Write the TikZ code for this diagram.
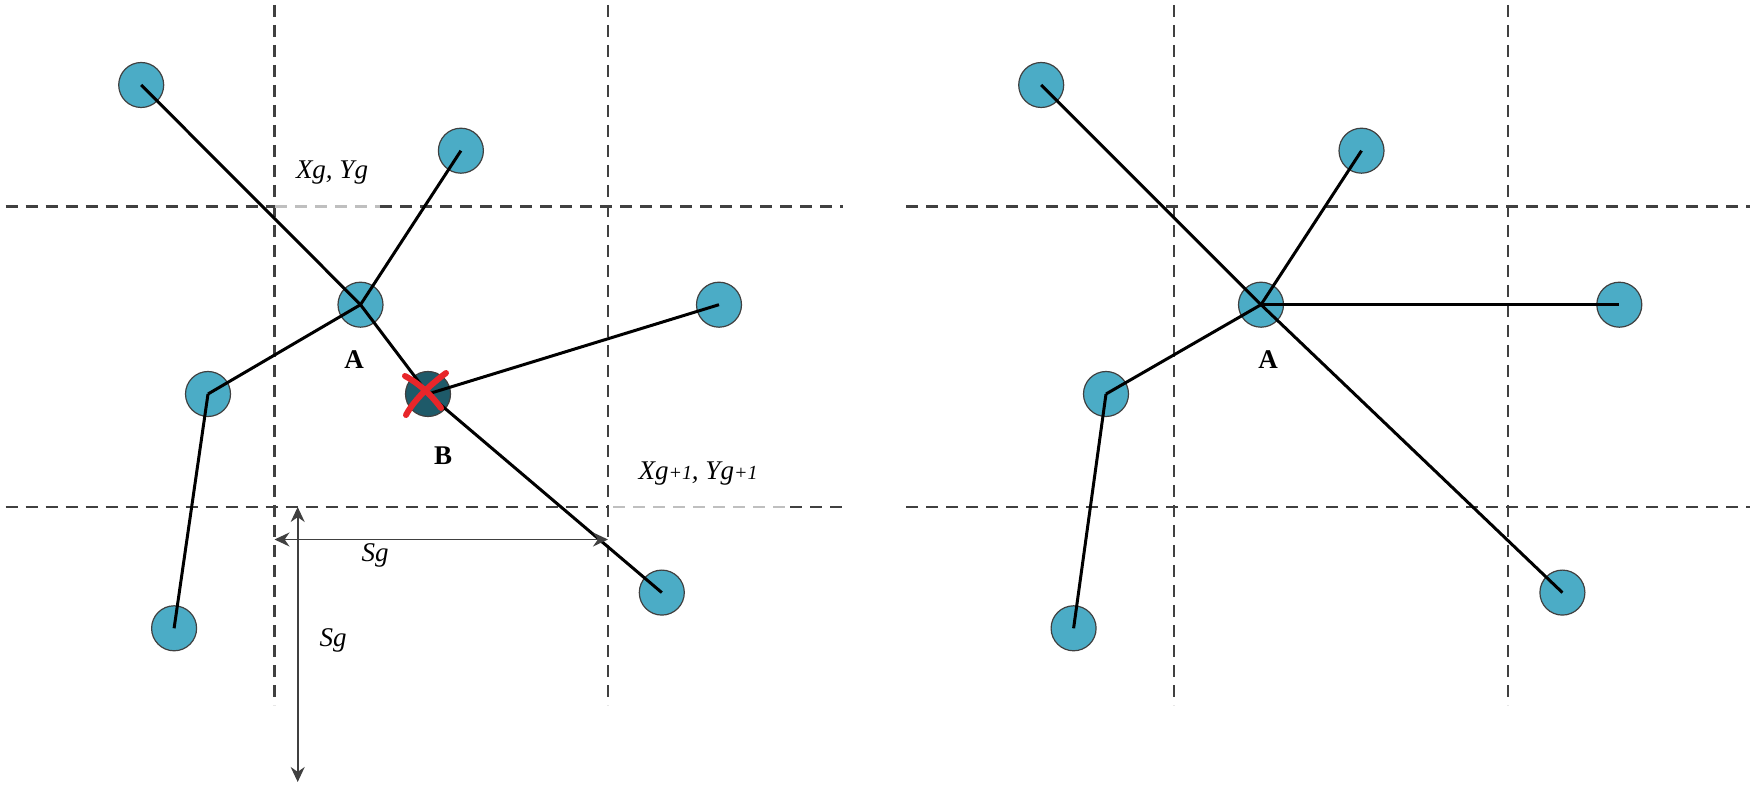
\documentclass[tikz,border=0pt]{standalone}
\usepackage{fontspec}
\setmainfont{Liberation Serif}
\usetikzlibrary{arrows.meta,shapes.geometric}
\definecolor{nodeblue}{HTML}{4BACC6}
\definecolor{nodedark}{HTML}{1E5A69}
\definecolor{xred}{HTML}{E8262A}
\definecolor{gridgray}{HTML}{404040}
\begin{document}
\begin{tikzpicture}[x=0.5pt,y=-0.5pt,
 pt/.style={circle,draw=black!75,line width=0.6pt,fill=nodeblue,minimum size=22.5pt,inner sep=0pt},
 ptdark/.style={pt,fill=nodedark},
 gridline/.style={draw=gridgray,line width=1.1pt,dash pattern=on 6pt off 4pt},
 gridlight/.style={gridline,draw=gray!50},
 edge/.style={draw=black,line width=1.5pt},
 dim/.style={draw=black!75,line width=0.8pt,{Stealth[length=7.5pt,width=7pt]}-{Stealth[length=7.5pt,width=7pt]}},
 lbl/.style={font=\fontsize{13.5}{15}\selectfont\itshape,inner sep=0pt},
 nlab/.style={font=\fontsize{13.5}{15}\selectfont\bfseries,inner sep=0pt},
 xmark/.style={draw=xred,line width=3pt,line cap=round}]
\useasboundingbox (0,0) rectangle (1750,790);
% ---------- left panel grid ----------
\draw[gridline] (274.5,5) -- (274.5,705);
\draw[gridline] (608,5) -- (608,705);
\draw[gridline] (5.6,206.5) -- (275,206.5);
\draw[gridlight] (275,206.5) -- (380,206.5);
\draw[gridline] (380,206.5) -- (842.6,206.5);
\draw[gridline] (5.6,506.7) -- (608,506.7);
\draw[gridlight] (613,506.7) -- (790,506.7);
\draw[gridline] (790,506.7) -- (842.6,506.7);
% ---------- right panel grid ----------
\draw[gridline] (1174,5) -- (1174,705);
\draw[gridline] (1507.7,5) -- (1507.7,705);
\draw[gridline] (906,206.5) -- (1750,206.5);
\draw[gridline] (906,506.7) -- (1750,506.7);
% ---------- left panel nodes ----------
\node[pt] (L1) at (141.2,85) {};
\node[pt] (L2) at (460.9,150.7) {};
\node[pt] (LA) at (360.5,304.7) {};
\node[pt] (L3) at (719,304.7) {};
\node[pt] (L4) at (208,394) {};
\node[ptdark] (LB) at (428,394) {};
\node[pt] (L5) at (174.1,628.3) {};
\node[pt] (L6) at (661.8,592.6) {};
\draw[edge] (L1.center) -- (LA.center);
\draw[edge] (LA.center) -- (LB.center);
\draw[edge] (LB.center) -- (L6.center);
\draw[edge] (L2.center) -- (LA.center);
\draw[edge] (LA.center) -- (L4.center);
\draw[edge] (L4.center) -- (L5.center);
\draw[edge] (LB.center) -- (L3.center);
\draw[xmark] ([shift={(-23,-18)}]LB.center) .. controls ([shift={(-8,-10)}]LB.center) and ([shift={(4,2)}]LB.center) .. ([shift={(13,14)}]LB.center);
\draw[xmark] ([shift={(18,-21)}]LB.center) .. controls ([shift={(2,-9)}]LB.center) and ([shift={(-14,6)}]LB.center) .. ([shift={(-22,21)}]LB.center);
\node[nlab] (labA) at (354,359.4) {A};
\node[nlab] (labB) at (443,455.3) {B};
\node[lbl] (xy1) at (332,173) {Xg, Yg};
\node[lbl] (xy2) at (698,474) {Xg{\fontsize{10}{10}\selectfont+1}, Yg{\fontsize{10}{10}\selectfont+1}};
% dimension arrows
\coordinate (hs) at (274.5,539.5);
\coordinate (he) at (608,539.5);
\coordinate (vs) at (297.7,507);
\coordinate (ve) at (297.7,782);
\draw[dim] (hs) -- (he);
\draw[dim] (vs) -- (ve);
\node[lbl] (sg1) at (375,555) {Sg};
\node[lbl] (sg2) at (333,640) {Sg};
% ---------- right panel nodes ----------
\node[pt] (R1) at (1041.2,85) {};
\node[pt] (R2) at (1361.5,150.7) {};
\node[pt] (RA) at (1261,304.7) {};
\node[pt] (R3) at (1619.3,304.7) {};
\node[pt] (R4) at (1106,394) {};
\node[pt] (R5) at (1073.6,628.3) {};
\node[pt] (R6) at (1562.4,592.6) {};
\draw[edge] (R1.center) -- (RA.center);
\draw[edge] (RA.center) -- (R6.center);
\draw[edge] (R2.center) -- (RA.center);
\draw[edge] (RA.center) -- (R3.center);
\draw[edge] (RA.center) -- (R4.center);
\draw[edge] (R4.center) -- (R5.center);
\node[nlab] (labRA) at (1268,359.4) {A};
\end{tikzpicture}
\end{document}
